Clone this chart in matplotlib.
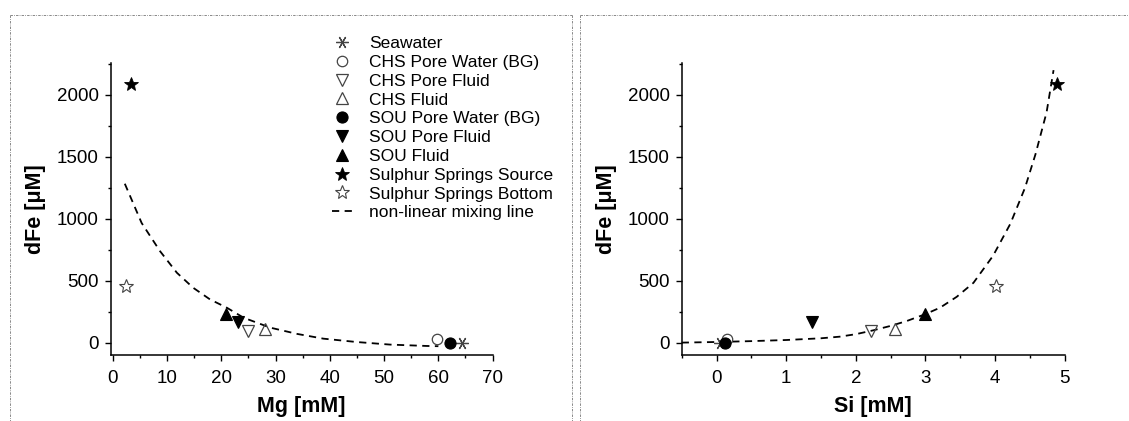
import matplotlib
matplotlib.use("Agg")
import matplotlib.pyplot as plt
from matplotlib.lines import Line2D
from matplotlib.ticker import MultipleLocator

plt.rcParams['font.family'] = ['Liberation Sans', 'DejaVu Sans']

# ---- data: (Mg [mM], Si [mM], dFe [uM]) per sample group ----
labels = ["Seawater", "CHS Pore Water (BG)", "CHS Pore Fluid", "CHS Fluid",
          "SOU Pore Water (BG)", "SOU Pore Fluid", "SOU Fluid",
          "Sulphur Springs Source", "Sulphur Springs Bottom"]
mg_vals = [64.3, 59.8, 25.0, 28.0, 62.1, 23.0, 20.8, 3.4, 2.4]
si_vals = [0.05, 0.15, 2.22, 2.56, 0.12, 1.37, 3.0, 4.89, 4.02]
dfe_vals = [0, 30, 95, 110, 0, 170, 235, 2090, 460]

# mixing lines
mix_mg_x = [2.2, 5.3, 8.7, 11.8, 14.8, 17.9, 21.0, 24.1, 29.0, 34.0, 38.8, 44.9, 51.1, 57.8, 60.0]
mix_mg_y = [1283, 966, 738, 564, 443, 349, 282, 201, 121, 70, 32, 5, -16, -27, -29]
mix_si_x = [-0.5, 0.0, 0.5, 1.0, 1.5, 1.77, 2.0, 2.25, 2.5, 2.73, 3.0, 3.21, 3.45,
            3.69, 3.97, 4.22, 4.43, 4.58, 4.74, 4.84]
mix_si_y = [0, 5, 12, 21, 35, 48, 68, 99, 135, 174, 230, 282, 370,
            483, 700, 960, 1250, 1520, 1860, 2200]

# marker styles
asterisk = (6, 2, 90)
styles = [
    dict(marker=asterisk, ms=9, mfc='none', mec='#444444', mew=0.9),
    dict(marker='o', ms=7.5, mfc='none', mec='#444444', mew=0.9),
    dict(marker='v', ms=9, mfc='none', mec='#444444', mew=0.9),
    dict(marker='^', ms=9, mfc='none', mec='#444444', mew=0.9),
    dict(marker='o', ms=8, mfc='black', mec='black', mew=0.8),
    dict(marker='v', ms=9, mfc='black', mec='black', mew=0.8),
    dict(marker='^', ms=9, mfc='black', mec='black', mew=0.8),
    dict(marker='*', ms=10, mfc='black', mec='black', mew=0.6),
    dict(marker='*', ms=10, mfc='none', mec='#444444', mew=0.8),
]

W, H = 1129, 421
fig = plt.figure(figsize=(W / 100, H / 100), dpi=100)

ax1 = fig.add_axes([110.7 / W, 1 - 355 / H, (492.6 - 110.7) / W, (355 - 62.7) / H])
ax2 = fig.add_axes([681.7 / W, 1 - 355 / H, (1064.7 - 681.7) / W, (355 - 62.7) / H])


def style_axis(ax):
    for s in ['top', 'right']:
        ax.spines[s].set_visible(False)
    for s in ['left', 'bottom']:
        ax.spines[s].set_linewidth(1.1)
    ax.tick_params(which='major', direction='out', length=4.5, width=1.0, labelsize=13.5, pad=4)
    ax.tick_params(which='minor', direction='out', length=2.5, width=1.0)
    ax.set_ylim(-100, 2260)
    ax.yaxis.set_major_locator(MultipleLocator(500))
    ax.yaxis.set_minor_locator(MultipleLocator(250))
    ax.set_ylabel("dFe [μM]", fontsize=15.5, fontweight='bold', labelpad=8)


style_axis(ax1)
style_axis(ax2)

ax1.set_xlim(-0.4, 70)
ax1.xaxis.set_major_locator(MultipleLocator(10))
ax1.xaxis.set_minor_locator(MultipleLocator(5))
ax1.set_xlabel("Mg [mM]", fontsize=15.5, fontweight='bold', labelpad=7)

ax2.set_xlim(-0.5, 5)
ax2.xaxis.set_major_locator(MultipleLocator(1))
ax2.xaxis.set_minor_locator(MultipleLocator(0.5))
ax2.set_xlabel("Si [mM]", fontsize=15.5, fontweight='bold', labelpad=7)
ax1.tick_params(axis='x', which='major', pad=6)
ax2.tick_params(axis='x', which='major', pad=6)

handles = []
for i, lab in enumerate(labels):
    ax1.plot([mg_vals[i]], [dfe_vals[i]], linestyle='none', clip_on=False, zorder=3, **styles[i])
    h, = ax2.plot([si_vals[i]], [dfe_vals[i]], linestyle='none', clip_on=False, zorder=3,
                  label=lab, **styles[i])
    handles.append(h)

ax1.plot(mix_mg_x, mix_mg_y, linestyle=(0, (4, 3)), color='black', lw=1.3, zorder=2)
lh, = ax2.plot(mix_si_x, mix_si_y, linestyle=(0, (4, 3)), color='black', lw=1.3, zorder=2,
               label="non-linear mixing line", clip_on=False)
handles.append(lh)

fig.legend(handles=handles, labels=labels + ["non-linear mixing line"],
           loc='upper left', bbox_to_anchor=(332 / W, 1 - 36 / H), frameon=False,
           fontsize=12.5, handlelength=1.2, handletextpad=0.95, labelspacing=0.21,
           borderpad=0, borderaxespad=0, numpoints=1)

# dash-dot panel frames
frame_kw = dict(color='#888888', lw=0.7, linestyle=(0, (2.5, 1.2, 0.8, 1.2)),
                transform=fig.transFigure)
def fl(x0, y0, x1, y1):
    fig.add_artist(Line2D([x0 / W, x1 / W], [1 - y0 / H, 1 - y1 / H], **frame_kw))

fl(10, 15, 571.7, 15)
fl(10, 15, 10, H)
fl(571.7, 15, 571.7, H)
fl(580, 15, W, 15)
fl(580, 15, 580, H)

fig.savefig("out.png", dpi=100)
